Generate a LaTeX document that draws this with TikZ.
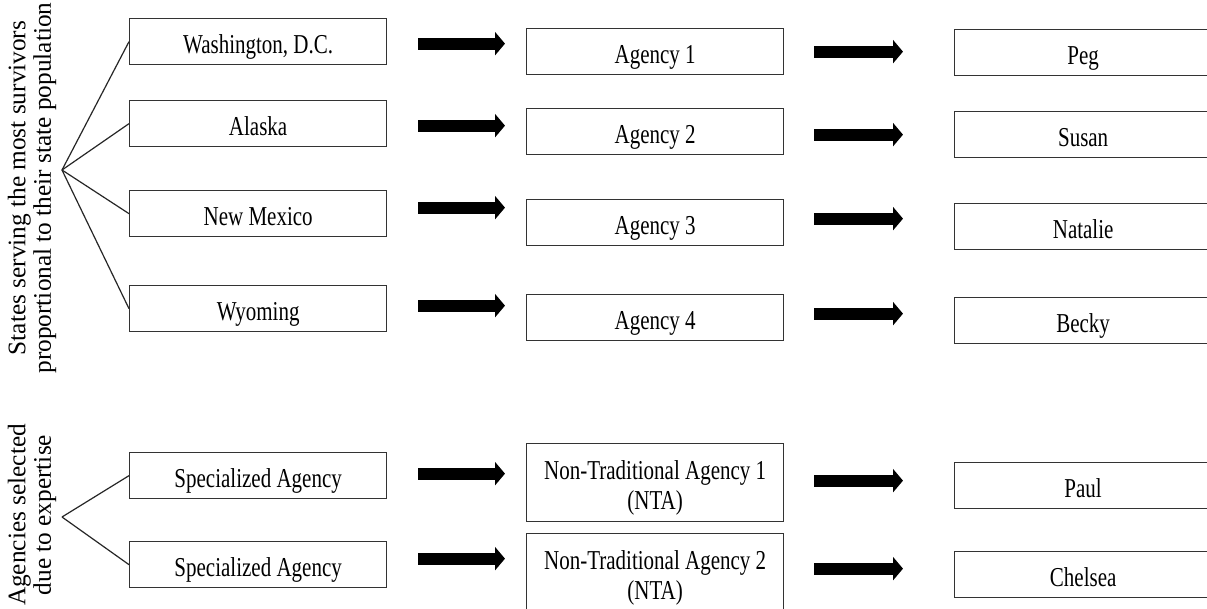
\documentclass[tikz,border=0pt]{standalone}
\usepackage{fontspec}
\setmainfont{Liberation Serif}
\usetikzlibrary{arrows.meta,calc}
\newcommand{\bx}[1]{\raisebox{-5.5pt}[\height][\depth]{\scalebox{1}[1.3]{\fontsize{21}{23}\selectfont\begin{tabular}{@{}c@{}}#1\end{tabular}}}}
\newcommand{\vlab}[1]{{\fontsize{25.3}{25.5}\selectfont\begin{tabular}{@{}c@{}}#1\end{tabular}}}
\tikzset{
  boxnode/.style={draw=black!80, line width=1.3pt, fill=white, minimum width=257pt,
    minimum height=46pt, inner sep=0pt, anchor=north west},
  tallbox/.style={boxnode, minimum height=78pt},
  bigarrow/.style={line width=12pt, -{Triangle[length=10pt,width=23pt]}, black},
  fanline/.style={draw=black!85, line width=1.2pt},
  vlabel/.style={rotate=90, inner sep=0pt}
}
\begin{document}
\begin{tikzpicture}[x=1pt,y=-1pt]
\useasboundingbox (0,0) rectangle (1207,608);
\fill[white] (0,0) rectangle (1207,608);
\clip (0,0) rectangle (1207,608);

% left column
\node[boxnode] (wdc) at (129,18)  {\bx{Washington, D.C.}};
\node[boxnode] (ak)  at (129,100) {\bx{Alaska}};
\node[boxnode] (nm)  at (129,190) {\bx{New Mexico}};
\node[boxnode] (wy)  at (129,285) {\bx{Wyoming}};
\node[boxnode] (sp1) at (129,452) {\bx{Specialized Agency}};
\node[boxnode] (sp2) at (129,541) {\bx{Specialized Agency}};

% middle column
\node[boxnode] (ag1) at (526,28)  {\bx{Agency 1}};
\node[boxnode] (ag2) at (526,108) {\bx{Agency 2}};
\node[boxnode] (ag3) at (526,199) {\bx{Agency 3}};
\node[boxnode] (ag4) at (526,294) {\bx{Agency 4}};
\node[tallbox] (nta1) at (526,443) {\bx{Non-Traditional Agency 1\\(NTA)}};
\node[tallbox] (nta2) at (526,533) {\bx{Non-Traditional Agency 2\\(NTA)}};

% right column
\node[boxnode] (peg)  at (954,29)  {\bx{Peg}};
\node[boxnode] (sus)  at (954,111) {\bx{Susan}};
\node[boxnode] (nat)  at (954,203) {\bx{Natalie}};
\node[boxnode] (bec)  at (954,297) {\bx{Becky}};
\node[boxnode] (paul) at (954,462) {\bx{Paul}};
\node[boxnode] (chel) at (954,551) {\bx{Chelsea}};

% vertical labels
\node[vlabel] (lab1) at (33,188) {\vlab{States serving the most survivors\\proportional to their state population}};
\node[vlabel] (lab2) at (33,515) {\vlab{Agencies selected\\due to expertise}};

% fan lines
\coordinate (f1) at (62,170);
\coordinate (f2) at (62,517);
\foreach \n in {wdc,ak,nm,wy} \draw[fanline] (f1) -- (\n.west);
\foreach \n in {sp1,sp2} \draw[fanline] (f2) -- (\n.west);

% left arrows
\draw[bigarrow] ($(wdc.east)+(31,2)$) -- ($(wdc.east -| ag1.west)+(-21,2)$);
\draw[bigarrow] ($(ak.east)+(31,2)$) -- ($(ak.east -| ag2.west)+(-21,2)$);
\draw[bigarrow] ($(nm.east)+(31,-6)$) -- ($(nm.east -| ag3.west)+(-21,-6)$);
\draw[bigarrow] ($(wy.east)+(31,-3)$) -- ($(wy.east -| ag4.west)+(-21,-3)$);
\draw[bigarrow] ($(sp1.east)+(31,-2)$) -- ($(sp1.east -| nta1.west)+(-21,-2)$);
\draw[bigarrow] ($(sp2.east)+(31,-6)$) -- ($(sp2.east -| nta2.west)+(-21,-6)$);

% right arrows
\draw[bigarrow] ($(ag1.east)+(30,0)$) -- ($(ag1.east -| peg.west)+(-51,0)$);
\draw[bigarrow] ($(ag2.east)+(30,3)$) -- ($(ag2.east -| sus.west)+(-51,3)$);
\draw[bigarrow] ($(ag3.east)+(30,-4)$) -- ($(ag3.east -| nat.west)+(-51,-4)$);
\draw[bigarrow] ($(ag4.east)+(30,-4)$) -- ($(ag4.east -| bec.west)+(-51,-4)$);
\draw[bigarrow] ($(nta1.east)+(30,-2)$) -- ($(nta1.east -| paul.west)+(-51,-2)$);
\draw[bigarrow] ($(nta2.east)+(30,-4)$) -- ($(nta2.east -| chel.west)+(-51,-4)$);
\end{tikzpicture}
\end{document}
